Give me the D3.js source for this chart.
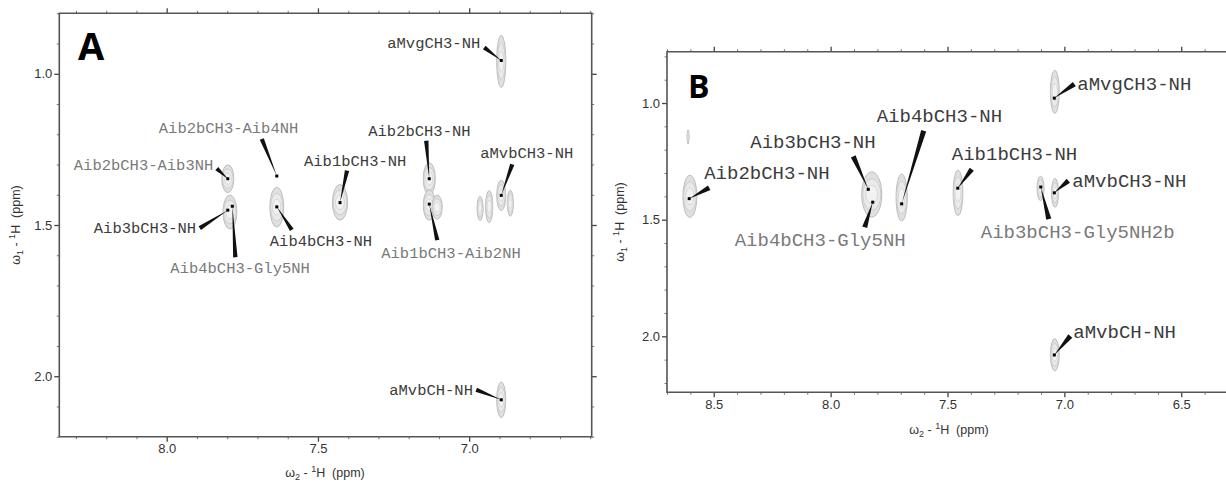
<!DOCTYPE html>
<html lang="en">
<head>
<meta charset="UTF-8">
<title>NOESY fingerprint A / B</title>
<style>
  body { margin: 0; background: #fff; }
  svg { display: block; font-family: "Liberation Sans", Arial, sans-serif; }
  .tick text { fill: #333; }
  .peak-label { font-family: "Courier New", "Liberation Mono", monospace; }
</style>
</head>
<body>
<svg width="1226" height="483"></svg>
<script src="https://d3js.org/d3.v7.min.js"></script>
<script>
// ---- panel A data (ppm) ----
const peakNamesA = ["Aib2bCH3-Aib4NH", "Aib2bCH3-Aib3NH", "Aib3bCH3-NH", "Aib4bCH3-Gly5NH",
                    "Aib4bCH3-NH", "Aib1bCH3-NH", "Aib2bCH3-NH", "Aib1bCH3-Aib2NH",
                    "aMvbCH3-NH", "aMvgCH3-NH", "aMvbCH-NH"];
const peakW2A = [7.636, 7.798, 7.798, 7.783, 7.636, 7.427, 7.132, 7.132, 6.894, 6.894, 6.894];
const peakW1A = [1.338, 1.347, 1.451, 1.438, 1.440, 1.426, 1.347, 1.431, 1.402, 0.956, 2.078];
// contour blobs: [w2, w1, half width w2, half width w1]
const contoursA = [
  [7.798, 1.347, 0.020, 0.046], [7.791, 1.457, 0.023, 0.056], [7.636, 1.441, 0.023, 0.066],
  [7.427, 1.425, 0.025, 0.059], [7.132, 1.347, 0.020, 0.053], [7.132, 1.434, 0.020, 0.050],
  [7.106, 1.441, 0.017, 0.040], [6.964, 1.445, 0.010, 0.040], [6.934, 1.439, 0.012, 0.053],
  [6.894, 1.402, 0.015, 0.050], [6.864, 1.428, 0.010, 0.043], [6.894, 0.959, 0.015, 0.086],
  [6.894, 2.078, 0.015, 0.059]
];
const ticksW2A = [8.0, 7.5, 7.0];
const ticksW1A = [1.0, 1.5, 2.0];

// ---- panel B data (ppm) ----
const peakNamesB = ["Aib2bCH3-NH", "Aib3bCH3-NH", "Aib4bCH3-Gly5NH", "Aib4bCH3-NH",
                    "Aib1bCH3-NH", "aMvgCH3-NH", "aMvbCH3-NH", "Aib3bCH3-Gly5NH2b", "aMvbCH-NH"];
const peakW2B = [8.605, 7.839, 7.820, 7.696, 7.456, 7.043, 7.043, 7.101, 7.043];
const peakW1B = [1.410, 1.370, 1.425, 1.432, 1.365, 0.979, 1.385, 1.360, 2.080];
const contoursB = [
  [8.602, 1.400, 0.030, 0.090], [7.824, 1.392, 0.043, 0.097], [7.696, 1.405, 0.024, 0.101],
  [7.455, 1.385, 0.021, 0.097], [7.102, 1.366, 0.015, 0.052], [7.040, 1.385, 0.015, 0.062],
  [7.041, 0.952, 0.019, 0.092], [7.041, 2.079, 0.019, 0.069], [8.610, 1.145, 0.004, 0.030]
];
const ticksW2B = [8.5, 8.0, 7.5, 7.0, 6.5];
const ticksW1B = [1.0, 1.5, 2.0];

// ---- label layout: [text dx, text dy, wedge dx, wedge dy, light] in px from the peak ----
const calloutA = [
  [-118, -43, -15, -37, 1], [-154, -9, -11, -10, 1], [-134, 23, -28, 18, 0],
  [-62, 67, 3, 51, 1], [-7, 39, 15, 23, 0], [-36, -37, 7, -32, 0],
  [-61, -43, -3, -38, 0], [-48, 54, 8, 36, 1], [-21, -37, 11, -31, 0],
  [-114, -12, -17, -13, 0], [-112, -5, -25, -10, 0]
];
const calloutB = [
  [15, -20, 20, -11, 0], [-118, -41, -15, -33, 0], [-138, 44, -8, 25, 1],
  [-25, -82, 22, -73, 0], [-6, -28, 14, -19, 0], [23, -8, 20, -14, 0],
  [18, -6, 14, -12, 0], [-60, 51, 8, 32, 1], [19, -17, 16, -19, 0]
];

const svg = d3.select("svg");

function minorTicks(domain, majors) {
  const lo = Math.min(...domain), hi = Math.max(...domain);
  return d3.range(Math.ceil(lo * 10 - 1e-6), Math.floor(hi * 10 + 1e-6) + 1)
    .map(v => v / 10)
    .filter(v => !majors.some(m => Math.abs(m - v) < 1e-6));
}

function axisTitle(g, x, y, sub, rotate) {
  const t = g.append("text")
    .attr("transform", `translate(${x},${y})` + (rotate ? " rotate(-90)" : ""))
    .attr("text-anchor", "middle")
    .attr("font-size", 12.5)
    .attr("fill", "#333")
    .style("white-space", "pre");
  t.append("tspan").text("\u03c9");
  t.append("tspan").attr("font-size", 9).attr("dy", 3).text(sub);
  t.append("tspan").attr("dy", -3).text(" - ");
  t.append("tspan").attr("font-size", 9).attr("dy", -5).text("1");
  t.append("tspan").attr("dy", 5).text("H  (ppm)");
}

function drawPanel(p) {
  const g = svg.append("g");
  const x = d3.scaleLinear().domain(p.xDomain).range(p.xRange);
  const y = d3.scaleLinear().domain(p.yDomain).range(p.yRange);
  const [x0, x1] = p.xRange, [y0, y1] = p.yRange;

  // contours
  const blobs = g.append("g").selectAll("g").data(p.contours).join("g");
  [[1, "#e0e0e0", "#b8b8b8"], [0.7, "#eaeaea", "#cacaca"], [0.4, "#f2f2f2", "#d4d4d4"]]
    .forEach(([k, fill, stroke]) => {
      blobs.append("ellipse")
        .attr("cx", d => x(d[0])).attr("cy", d => y(d[1]))
        .attr("rx", d => Math.abs(x(d[0] + d[2]) - x(d[0])) * (k === 1 ? 1 : k + 0.2))
        .attr("ry", d => Math.abs(y(d[1] + d[3]) - y(d[1])) * k)
        .attr("fill", fill).attr("stroke", stroke).attr("stroke-width", 0.9);
    });

  // axes
  const tickFmt = d3.format(".1f");
  const mk = (axis, scale, vals, size, labels) => axis(scale).tickValues(vals)
    .tickSize(size).tickPadding(labels ? p.pad : 0).tickFormat(labels ? tickFmt : "");
  const axes = [
    [d3.axisBottom, x, `translate(0,${y1})`, p.ticksX, true],
    [d3.axisLeft, y, `translate(${x0},0)`, p.ticksY, true],
    [d3.axisTop, x, `translate(0,${y0})`, p.ticksX, false]
  ];
  if (p.rightAxis) axes.push([d3.axisRight, y, `translate(${x1},0)`, p.ticksY, false]);
  axes.forEach(([axis, scale, tr, majors, labels]) => {
    const ag = g.append("g").attr("transform", tr)
      .call(mk(axis, scale, majors, 5, labels))
      .attr("font-size", 13).attr("font-family", null);
    g.append("g").attr("transform", tr).call(mk(axis, scale, minorTicks(scale.domain(), majors), 2.5, false))
      .call(s => s.select(".domain").remove())
      .selectAll("line").attr("stroke", "#777");
    ag.select(".domain").remove();
    ag.selectAll("line").attr("stroke", "#444").attr("stroke-width", 1.3);
  });

  // frame
  const frame = p.rightAxis
    ? `M${x0},${y0}H${x1}V${y1}H${x0}Z`
    : `M${x1},${y0}H${x0}V${y1}H${x1}`;
  g.append("path").attr("d", frame).attr("fill", "none")
    .attr("stroke", "#555").attr("stroke-width", 1.6);

  // callouts
  const peaks = p.names.map((name, i) => ({
    name, px: x(p.w2[i]), py: y(p.w1[i]), c: p.callout[i]
  }));
  g.append("g").selectAll("path").data(peaks).join("path")
    .attr("fill", "#111")
    .attr("d", d => {
      const bx = d.px + d.c[2], by = d.py + d.c[3];
      const dx = bx - d.px, dy = by - d.py, len = Math.hypot(dx, dy) || 1;
      const nx = -dy / len * p.wedge, ny = dx / len * p.wedge;
      return `M${bx + nx},${by + ny}L${bx - nx},${by - ny}L${d.px},${d.py}Z`;
    });
  g.append("g").selectAll("rect").data(peaks).join("rect")
    .attr("x", d => d.px - 1.5).attr("y", d => d.py - 1.5)
    .attr("width", 3).attr("height", 3).attr("fill", "#000");
  g.append("g").selectAll("text").data(peaks).join("text")
    .attr("class", "peak-label")
    .attr("x", d => d.px + d.c[0]).attr("y", d => d.py + d.c[1])
    .attr("font-size", p.labelSize)
    .attr("fill", d => d.c[4] ? "#7a7a7a" : "#3c3c3c")
    .text(d => d.name);

  // panel letter
  g.append("text").attr("x", p.letterPos[0]).attr("y", p.letterPos[1])
    .attr("font-family", "'Open Sans', 'Noto Sans', sans-serif")
    .attr("font-weight", 700).attr("font-size", p.letterSize).attr("fill", "#000")
    .text(p.letter);

  axisTitle(g, p.xTitle[0], p.xTitle[1], "2", false);
  axisTitle(g, p.yTitle[0], p.yTitle[1], "1", true);
}

drawPanel({
  xDomain: [8.355, 6.595], xRange: [59.3, 591.7],
  yDomain: [0.8, 2.2], yRange: [13.3, 436.7],
  ticksX: ticksW2A, ticksY: ticksW1A, pad: 2, rightAxis: true,
  contours: contoursA, names: peakNamesA, w2: peakW2A, w1: peakW1A, callout: calloutA,
  labelSize: 15.5, wedge: 2.2, letter: "A", letterPos: [78, 60], letterSize: 38,
  xTitle: [325, 477], yTitle: [20, 225]
});

drawPanel({
  xDomain: [8.7, 6.3], xRange: [667, 1228],
  yDomain: [0.78, 2.24], yRange: [51.7, 392.3],
  ticksX: ticksW2B, ticksY: ticksW1B, pad: 2, rightAxis: false,
  contours: contoursB, names: peakNamesB, w2: peakW2B, w1: peakW1B, callout: calloutB,
  labelSize: 19, wedge: 2.6, letter: "B", letterPos: [688, 98], letterSize: 32,
  xTitle: [949, 434], yTitle: [624, 222]
});
</script>
</body>
</html>
